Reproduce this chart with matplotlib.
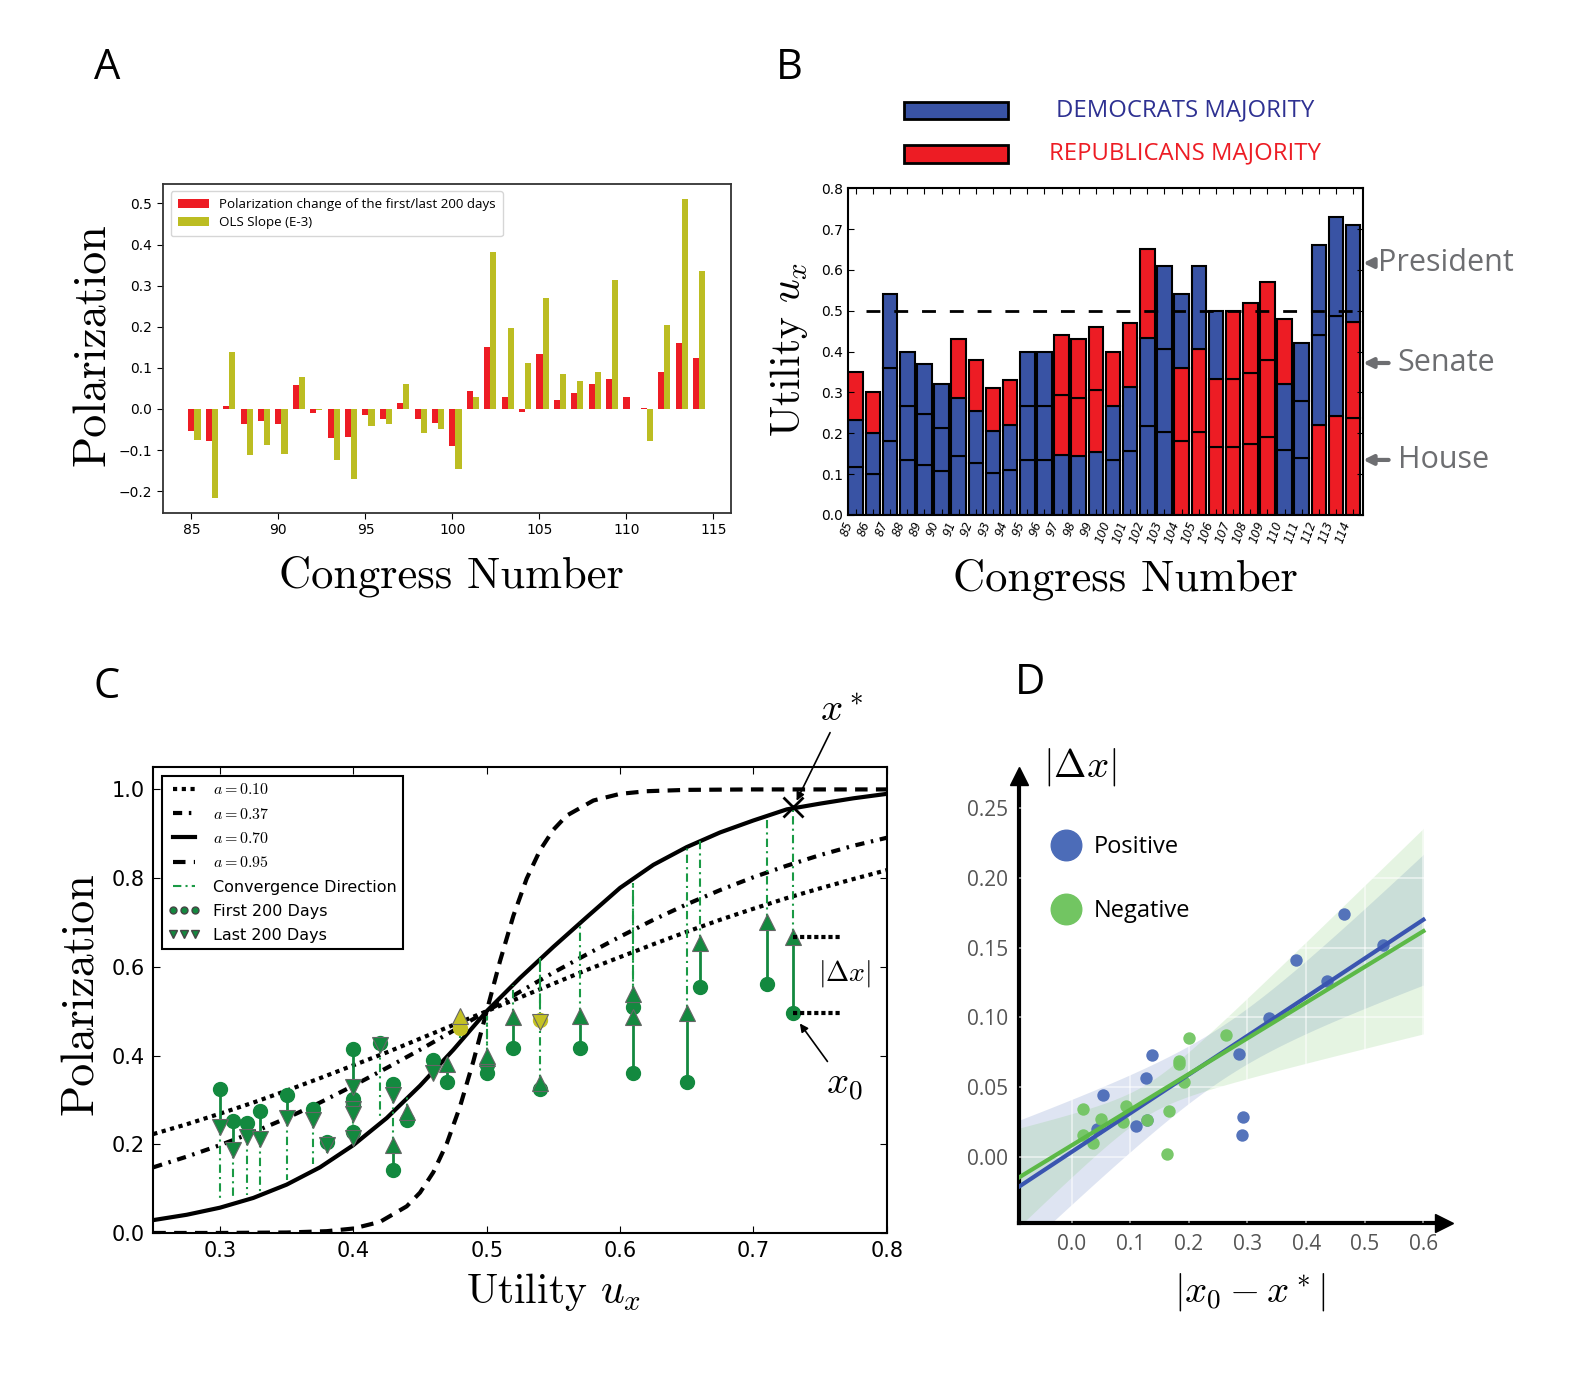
import numpy as np
import matplotlib
matplotlib.use("Agg")
import matplotlib.pyplot as plt
from matplotlib.lines import Line2D
from matplotlib.patches import Rectangle, FancyArrowPatch

plt.rcParams["mathtext.fontset"] = "cm"
plt.rcParams["font.family"] = "DejaVu Sans"

# ── Panel A: polarization change per congress ────────────────────────────
congress = np.arange(85, 115)
pol_change = [-0.054, -0.079, 0.007, -0.036, -0.030, -0.036, 0.058, -0.010, -0.070, -0.067,
              -0.014, -0.024, 0.014, -0.024, -0.035, -0.090, 0.044, 0.151, 0.030, -0.007,
              0.133, 0.022, 0.038, 0.061, 0.074, 0.028, 0.003, 0.089, 0.161, 0.124]
ols_slope = [-0.075, -0.216, 0.138, -0.112, -0.088, -0.109, 0.078, -0.003, -0.125, -0.170,
             -0.042, -0.036, 0.062, -0.058, -0.049, -0.147, 0.030, 0.382, 0.198, 0.112,
             0.270, 0.085, 0.069, 0.089, 0.313, 0.001, -0.079, 0.205, 0.511, 0.336]

# ── Panel B: utility and majorities (House, Senate, President) ───────────
utility = [0.35, 0.30, 0.54, 0.40, 0.37, 0.32, 0.43, 0.38, 0.31, 0.33,
           0.40, 0.40, 0.44, 0.43, 0.46, 0.40, 0.47, 0.65, 0.61, 0.54,
           0.61, 0.50, 0.50, 0.52, 0.57, 0.48, 0.42, 0.66, 0.73, 0.71]
house =     list("DDDDDDDDDDDDDDDDDDDRRRRRRDDRRR")
senate =    list("DDDDDDDDDDDDRRRDDDDRRRRRRDDDDR")
president = list("RRDDDDRRRRDDRRRRRRDDDDRRRRDDDD")

# ── Panel C: model curves and congress trajectories ──────────────────────
curve_u = [0.25, 0.275, 0.30, 0.325, 0.35, 0.375, 0.40, 0.425, 0.45, 0.475, 0.50, 0.525,
           0.55, 0.575, 0.60, 0.625, 0.65, 0.675, 0.70, 0.725, 0.75, 0.775, 0.80]
curve_a010 = [0.223, 0.245, 0.269, 0.294, 0.321, 0.349, 0.378, 0.407, 0.438, 0.469, 0.500, 0.531,
              0.562, 0.593, 0.622, 0.651, 0.679, 0.706, 0.731, 0.755, 0.777, 0.798, 0.818]
curve_a037 = [0.148, 0.172, 0.198, 0.227, 0.259, 0.294, 0.332, 0.372, 0.413, 0.456, 0.500, 0.544,
              0.587, 0.628, 0.668, 0.706, 0.741, 0.773, 0.802, 0.828, 0.852, 0.873, 0.891]
curve_a070 = [0.029, 0.041, 0.057, 0.079, 0.109, 0.148, 0.198, 0.259, 0.332, 0.413, 0.500, 0.575,
              0.645, 0.712, 0.778, 0.830, 0.870, 0.903, 0.930, 0.955, 0.968, 0.980, 0.990]
steep_u = [0.25, 0.30, 0.35, 0.38, 0.40, 0.42, 0.44, 0.45, 0.46, 0.47, 0.48, 0.49, 0.50,
           0.51, 0.52, 0.53, 0.54, 0.55, 0.56, 0.58, 0.60, 0.62, 0.65, 0.70, 0.80]
curve_a095 = [0.000, 0.000, 0.001, 0.004, 0.010, 0.025, 0.060, 0.091, 0.137, 0.201, 0.285, 0.387, 0.500,
              0.613, 0.715, 0.799, 0.863, 0.909, 0.941, 0.975, 0.990, 0.996, 0.999, 1.000, 1.000]

c_u = [0.30, 0.31, 0.32, 0.33, 0.35, 0.37, 0.38, 0.40, 0.40, 0.40, 0.40, 0.42, 0.43, 0.43, 0.44,
       0.46, 0.47, 0.48, 0.50, 0.50, 0.52, 0.54, 0.54, 0.57, 0.61, 0.61, 0.65, 0.66, 0.71, 0.73]
c_first = [0.324, 0.253, 0.247, 0.275, 0.311, 0.279, 0.205, 0.415, 0.303, 0.290, 0.227, 0.428, 0.335,
           0.143, 0.255, 0.391, 0.341, 0.461, 0.360, 0.378, 0.416, 0.324, 0.480, 0.418, 0.361, 0.510,
           0.341, 0.554, 0.561, 0.495]
c_last = [0.238, 0.188, 0.217, 0.212, 0.259, 0.254, 0.198, 0.330, 0.279, 0.268, 0.214, 0.424, 0.310,
          0.198, 0.273, 0.360, 0.382, 0.490, 0.395, 0.400, 0.487, 0.337, 0.476, 0.490, 0.488, 0.538,
          0.495, 0.653, 0.700, 0.668]
c_target = [0.07, 0.075, 0.085, 0.09, 0.12, 0.155, 0.18, 0.21, 0.21, 0.21, 0.21, 0.26, 0.28, 0.28,
            0.31, 0.36, 0.39, 0.44, 0.49, 0.49, 0.56, 0.62, 0.62, 0.70, 0.79, 0.79, 0.87, 0.89, 0.93, 0.955]
c_diverge = [0, 0, 0, 0, 0, 0, 0, 0, 0, 0, 0, 0, 0, 0, 0, 0, 0, 1, 0, 0, 0, 0, 1, 0, 0, 0, 0, 0, 0, 0]

# ── Panel D: |Δx| against distance to the fixed point ────────────────────
pos_x = [0.043, 0.054, 0.110, 0.127, 0.129, 0.138, 0.286, 0.290, 0.293, 0.336, 0.383, 0.436, 0.465, 0.531]
pos_y = [0.020, 0.0447, 0.0222, 0.0567, 0.0263, 0.0729, 0.0741, 0.0161, 0.0287, 0.0997, 0.1408,
         0.1262, 0.1742, 0.1518]
neg_x = [0.020, 0.020, 0.037, 0.051, 0.088, 0.093, 0.128, 0.162, 0.167, 0.183, 0.183, 0.192, 0.200, 0.263]
neg_y = [0.0347, 0.0161, 0.0103, 0.027, 0.0251, 0.0363, 0.0267, 0.0024, 0.0328, 0.0688, 0.0669,
         0.0538, 0.0849, 0.0873]

RED = "#ed1c24"
OLIVE = "#bcbd22"
BLUE_B = "#3953a4"
GREEN = "#13893f"
GREEN_LINE = "#1a9a45"
YELLOW = "#c4c124"
GRAY_TXT = "#6d6e71"
SERIF = "cmr10"
DOT = (1, 1.1)
DASHDOT = (2.2, 1.6, 0.6, 1.6)
DASH = (3, 2)
CONV = (4, 2, 1, 2)

fig = plt.figure(figsize=(15.92, 13.75), dpi=100)

# ── A ────────────────────────────────────────────────────────────────────
ax = fig.add_axes([0.1021, 0.6271, 0.3571, 0.2391])
ax.bar(congress, pol_change, width=0.35, color=RED,
       label="Polarization change of the first/last 200 days")
ax.bar(congress + 0.35, ols_slope, width=0.35, color=OLIVE, label="OLS Slope (E-3)")
ax.set_xticks([85, 90, 95, 100, 105, 110, 115])
ax.set_yticks([-0.2, -0.1, 0.0, 0.1, 0.2, 0.3, 0.4, 0.5])
ax.tick_params(labelsize=10, length=4)
for s in ax.spines.values():
    s.set_linewidth(1.3)
    s.set_color("#333333")
ax.legend(loc="upper left", bbox_to_anchor=(0.014, 0.979), borderaxespad=0,
          prop={"family": "Open Sans", "size": 9.6}, fancybox=True, framealpha=0.8,
          edgecolor="#cccccc", handlelength=2.3, handleheight=0.7, labelspacing=0.35,
          borderpad=0.55)
fig.text(0.2833, 0.5811, "Congress Number", family=SERIF, fontsize=32, ha="center", va="center")
fig.text(0.0587, 0.749, "Polarization", family=SERIF, fontsize=33, rotation=90,
         ha="center", va="center")

# ── B ────────────────────────────────────────────────────────────────────
ax = fig.add_axes([0.5327, 0.6255, 0.3232, 0.2376])
party_color = {"D": BLUE_B, "R": RED}
third = np.array(utility) / 3
for j, branch in enumerate((house, senate, president)):
    ax.bar(congress, third, bottom=j * third, width=0.85,
           color=[party_color[p] for p in branch], edgecolor="black", linewidth=1.5)
ax.axhline(0.5, xmin=0.035, color="black", lw=2, dashes=(5, 5))
ax.set_xlim(84.55, 114.55)
ax.set_ylim(0, 0.8)
ax.set_xticks(congress)
ax.set_xticklabels([str(c) for c in congress], rotation=70, fontstyle="italic",
                   fontsize=8.5, ha="right", va="top")
ax.set_yticks(np.round(np.arange(0, 0.81, 0.1), 1))
ax.tick_params(axis="y", labelsize=10)
ax.tick_params(direction="in", top=True, right=True, length=4)
for s in ax.spines.values():
    s.set_linewidth(1.5)
fig.text(0.7067, 0.5789, "Congress Number", family=SERIF, fontsize=32, ha="center", va="center")
fig.text(0.4956, 0.7455, r"Utility $u_x$", family=SERIF, fontsize=30, rotation=90,
         ha="center", va="center")

# legend of majorities, above the axes
fig.patches.append(Rectangle((0.5678, 0.9132), 0.0653, 0.0128, transform=fig.transFigure,
                             facecolor=BLUE_B, edgecolor="black", lw=2))
fig.patches.append(Rectangle((0.5678, 0.8817), 0.0653, 0.0128, transform=fig.transFigure,
                             facecolor=RED, edgecolor="black", lw=2))
fig.text(0.7445, 0.920, "DEMOCRATS MAJORITY", family="Open Sans", fontsize=17.2,
         color="#2e3192", ha="center", va="center")
fig.text(0.7445, 0.8887, "REPUBLICANS MAJORITY", family="Open Sans", fontsize=17.2,
         color=RED, ha="center", va="center")

for name, fy, tx, tail in (("President", 0.8087, 0.8656, 0.8650),
                           ("Senate", 0.736, 0.8781, 0.8740),
                           ("House", 0.6655, 0.8781, 0.8740)):
    fig.text(tx, fy, name, family="Open Sans", fontsize=22, color=GRAY_TXT, va="center")
    fig.add_artist(FancyArrowPatch((tail, fy), (0.8545, fy), transform=fig.transFigure,
                                   arrowstyle="-|>", mutation_scale=14, color=GRAY_TXT, lw=3))

# ── C ────────────────────────────────────────────────────────────────────
ax = fig.add_axes([0.0963, 0.1033, 0.4607, 0.3387])
ax.plot(curve_u, curve_a010, color="black", lw=3, dashes=DOT)
ax.plot(curve_u, curve_a037, color="black", lw=3, dashes=DASHDOT)
ax.plot(curve_u, curve_a070, color="black", lw=3)
ax.plot(steep_u, curve_a095, color="black", lw=3, dashes=DASH)

for u, f, l, t, d in zip(c_u, c_first, c_last, c_target, c_diverge):
    col = YELLOW if d else GREEN
    ax.plot([u, u], [l, t], color=GREEN_LINE, lw=1.5, dashes=CONV, zorder=3)
    ax.plot([u, u], [f, l], color=GREEN, lw=2, zorder=4)
    ax.plot(u, f, "o", color=col, ms=10, mec=col, zorder=5)
    ax.plot(u, l, "^" if l > f else "v", color=col, ms=11, mec="#666666", mew=0.8, zorder=6)

ax.plot(0.73, 0.961, "x", color="black", ms=14, mew=2, zorder=7)
ax.plot([0.73, 0.765], [0.668, 0.668], color="black", lw=3, dashes=(1, 0.7), zorder=7)
ax.plot([0.73, 0.765], [0.495, 0.495], color="black", lw=3, dashes=(1, 0.7), zorder=7)
ax.text(0.7686, 0.585, r"$|\Delta x|$", fontsize=20, ha="center", va="center")
ax.annotate(r"$x^*$", xy=(0.731, 0.966), xytext=(0.766, 1.18), fontsize=28,
            ha="center", va="center", annotation_clip=False,
            arrowprops=dict(arrowstyle="-|>", color="black", lw=1.2, mutation_scale=12,
                            shrinkA=1, shrinkB=3))
ax.annotate(r"$x_0$", xy=(0.733, 0.48), xytext=(0.768, 0.335), fontsize=28,
            ha="center", va="center",
            arrowprops=dict(arrowstyle="-|>", color="black", lw=1.2, mutation_scale=12,
                            shrinkA=1, shrinkB=3))

handles = [Line2D([], [], color="black", lw=3, dashes=DOT),
           Line2D([], [], color="black", lw=3, dashes=DASHDOT),
           Line2D([], [], color="black", lw=3),
           Line2D([], [], color="black", lw=3, dashes=DASH),
           Line2D([], [], color=GREEN_LINE, lw=1.5, dashes=CONV),
           Line2D([], [], color=GREEN, marker="o", ls="none", ms=5, mec="#444444"),
           Line2D([], [], color=GREEN, marker="v", ls="none", ms=6, mec="#444444")]
labels = [r"$a=0.10$", r"$a=0.37$", r"$a=0.70$", r"$a=0.95$",
          "Convergence Direction", "First 200 Days", "Last 200 Days"]
leg = ax.legend(handles, labels, loc="upper left", bbox_to_anchor=(0.0115, 0.981),
                borderaxespad=0, fontsize=11.5, numpoints=3, handlelength=2.0,
                fancybox=False, edgecolor="black", framealpha=1, labelspacing=0.58)
leg.get_frame().set_linewidth(1.5)

ax.set_xlim(0.25, 0.8)
ax.set_ylim(0, 1.05)
ax.set_xticks([0.3, 0.4, 0.5, 0.6, 0.7, 0.8])
ax.set_yticks([0.0, 0.2, 0.4, 0.6, 0.8, 1.0])
ax.tick_params(direction="in", top=True, right=True, length=5, labelsize=15, pad=6)
for s in ax.spines.values():
    s.set_linewidth(1.5)
fig.text(0.3474, 0.0604, r"Utility $u_x$", family=SERIF, fontsize=30, ha="center", va="center")
fig.text(0.0509, 0.2771, "Polarization", family=SERIF, fontsize=33, rotation=90,
         ha="center", va="center")

# ── D ────────────────────────────────────────────────────────────────────
ax = fig.add_axes([0.6403, 0.1108, 0.2667, 0.3250])
xs = np.linspace(-0.09, 0.6, 120)
for x, y, pc, lc in ((pos_x, pos_y, "#4c6cb8", "#3a55b0"),
                     (neg_x, neg_y, "#72c562", "#5cb947")):
    x = np.asarray(x)
    y = np.asarray(y)
    slope, icpt = np.polyfit(x, y, 1)
    resid = y - (icpt + slope * x)
    s = np.sqrt(np.sum(resid ** 2) / (len(x) - 2))
    se = s * np.sqrt(1 / len(x) + (xs - x.mean()) ** 2 / np.sum((x - x.mean()) ** 2))
    fit = icpt + slope * xs
    ax.fill_between(xs, fit - 2.2 * se, fit + 2.2 * se, color=pc, alpha=0.18, lw=0, zorder=1)
    ax.scatter(x, y, s=80, color=pc, alpha=0.95, lw=0, zorder=4)
    ax.plot(xs, fit, color=lc, lw=3, zorder=5)

ax.set_xlim(-0.089, 0.635)
ax.set_ylim(-0.047, 0.273)
ax.set_xticks([0.0, 0.1, 0.2, 0.3, 0.4, 0.5, 0.6])
ax.set_yticks([0.00, 0.05, 0.10, 0.15, 0.20, 0.25])
ax.set_yticklabels(["0.00", "0.05", "0.10", "0.15", "0.20", "0.25"])
ax.set_axisbelow(False)
ax.grid(color="white", lw=1.2, alpha=0.6, zorder=2)
ax.tick_params(length=0, labelsize=15, labelcolor="#555555", pad=8)
for lab in ax.get_xticklabels() + ax.get_yticklabels():
    lab.set_family("Open Sans")
for side in ("top", "right"):
    ax.spines[side].set_visible(False)
for side in ("left", "bottom"):
    ax.spines[side].set_linewidth(3)
    ax.spines[side].set_color("black")
ax.plot(1, 0, ">", color="black", ms=13, transform=ax.transAxes, clip_on=False, zorder=8)
ax.plot(0, 1, "^", color="black", ms=13, transform=ax.transAxes, clip_on=False, zorder=8)

ax.legend([Line2D([], [], marker="o", ls="none", ms=22, color="#4c6cb8"),
           Line2D([], [], marker="o", ls="none", ms=22, color="#72c562")],
          ["Positive", "Negative"], loc="upper left", bbox_to_anchor=(0.054, 0.889),
          frameon=False, prop={"family": "Open Sans", "size": 17}, labelspacing=1.7,
          handlelength=1.2, handletextpad=0.6, borderaxespad=0)
fig.text(0.7852, 0.0604, r"$|x_0 - x^*|$", fontsize=28, ha="center", va="center")
fig.text(0.6784, 0.4422, r"$|\Delta x|$", fontsize=28, ha="center", va="center")

# ── panel letters ────────────────────────────────────────────────────────
for letter, fx, fy in (("A", 0.0672, 0.9505), ("B", 0.4956, 0.9505),
                       ("C", 0.0672, 0.5004), ("D", 0.647, 0.5033)):
    fig.text(fx, fy, letter, family="Open Sans", fontsize=30, ha="center", va="center")

fig.savefig("out.png", dpi=100)
